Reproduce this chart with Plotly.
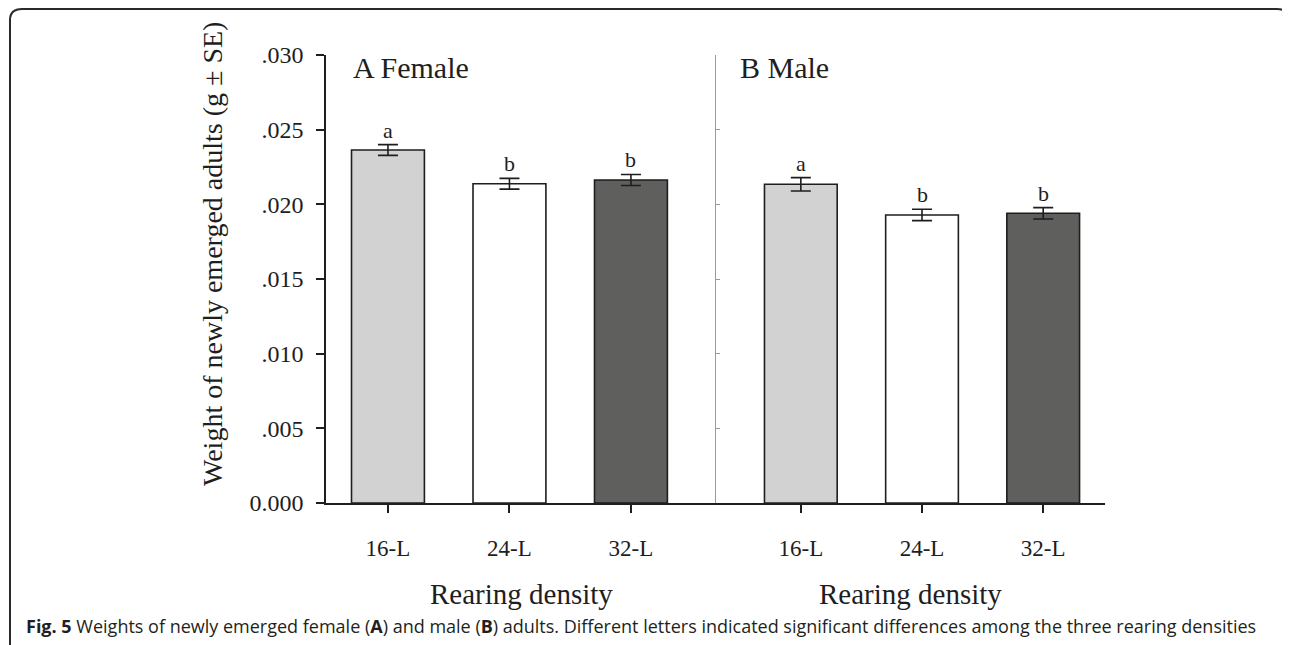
import plotly.graph_objects as go

# ---------------- data ----------------
categories = ["16-L", "24-L", "32-L"]
female_mean = [0.02364, 0.02138, 0.02163]
female_se = [0.00036, 0.00036, 0.00037]
female_letters = ["a", "b", "b"]
male_mean = [0.02134, 0.01929, 0.01940]
male_se = [0.00045, 0.00038, 0.00038]
male_letters = ["a", "b", "b"]
bar_colors = ["#d1d2d1", "#ffffff", "#5f5f5e"]
y_tickvals = [0, 0.005, 0.010, 0.015, 0.020, 0.025, 0.030]
y_ticktext = ["0.000", ".005", ".010", ".015", ".020", ".025", ".030"]
panel_titles = ["A Female", "B Male"]
x_title = "Rearing density"
y_title = "Weight of newly emerged adults (g \u00b1 SE)"
caption = ("<b>Fig. 5</b> Weights of newly emerged female (<b>A</b>) and male (<b>B</b>) adults. "
           "Different letters indicated significant differences among the three rearing densities")

# ---------------- layout helpers ----------------
OFF = 8                      # page body margin
W, H = 1290 - OFF, 645 - OFF
def px(x):
    return (x - OFF) / W
def py(y):
    return 1 - (y - OFF) / H

SERIF = "Liberation Serif, Times New Roman, serif"
INK = "#1e1e1e"

fig = go.Figure()

for means, ses, xa, ya in [(female_mean, female_se, "x", "y"), (male_mean, male_se, "x2", "y2")]:
    fig.add_trace(go.Bar(
        x=categories, y=means, xaxis=xa, yaxis=ya, width=0.6,
        marker=dict(color=bar_colors, line=dict(color=INK, width=1.6)),
        error_y=dict(type="data", array=ses, visible=True, color=INK, thickness=1.6, width=10),
        showlegend=False, hoverinfo="skip",
    ))

annotations = []
for means, ses, letters, xa, ya in [(female_mean, female_se, female_letters, "x", "y"),
                                    (male_mean, male_se, male_letters, "x2", "y2")]:
    for c, m, s, l in zip(categories, means, ses, letters):
        annotations.append(dict(x=c, y=m + s, xref=xa, yref=ya, text=l, showarrow=False,
                                yanchor="bottom", yshift=0,
                                font=dict(family=SERIF, size=22, color=INK)))

annotations += [
    dict(x=px(351), y=py(68), xref="paper", yref="paper", text=panel_titles[0], showarrow=False,
         xanchor="left", yanchor="middle", font=dict(family=SERIF, size=30, color=INK)),
    dict(x=px(738), y=py(68), xref="paper", yref="paper", text=panel_titles[1], showarrow=False,
         xanchor="left", yanchor="middle", font=dict(family=SERIF, size=30, color=INK)),
    dict(x=px(521), y=py(594), xref="paper", yref="paper", text=x_title, showarrow=False,
         xanchor="center", yanchor="middle", font=dict(family=SERIF, size=29, color=INK)),
    dict(x=px(910.5), y=py(594), xref="paper", yref="paper", text=x_title, showarrow=False,
         xanchor="center", yanchor="middle", font=dict(family=SERIF, size=29, color=INK)),
    dict(x=px(213), y=py(254), xref="paper", yref="paper", text=y_title, showarrow=False,
         textangle=-90, xanchor="center", yanchor="middle",
         font=dict(family=SERIF, size=28, color=INK)),
    dict(x=px(24), y=py(626), xref="paper", yref="paper", text=caption, showarrow=False,
         xanchor="left", yanchor="middle",
         font=dict(family="Open Sans, sans-serif", size=18, color="#231f20")),
]

# rounded frame around the figure (top-left / top-right corners visible)
pts = [(10, 660), (10, 20), (10, 9), (22, 9), (1277, 9), (1289, 9), (1289, 21)]
def P(p):
    return f"{px(p[0]):.5f},{py(p[1]):.5f}"
path = (f"M {P(pts[0])} L {P(pts[1])} Q {P(pts[2])} {P(pts[3])} "
        f"L {P(pts[4])} Q {P(pts[5])} {P(pts[6])}")
shapes = [dict(type="path", path=path, xref="paper", yref="paper",
               line=dict(color="#2a2a2a", width=2))]

axis_common = dict(showgrid=False, zeroline=False, fixedrange=True, automargin=False)

fig.update_layout(
    width=W, height=H,
    margin=dict(l=0, r=0, t=0, b=0, pad=0, autoexpand=False),
    paper_bgcolor="white", plot_bgcolor="rgba(0,0,0,0)",
    annotations=annotations, shapes=shapes,
    xaxis=dict(domain=[px(326), px(716)], range=[-0.51, 2.70], anchor="y",
               showline=True, linecolor=INK, linewidth=1.5,
               ticks="outside", ticklen=8, tickwidth=1.5, tickcolor=INK,
               tickfont=dict(family=SERIF, size=23, color=INK), ticklabelstandoff=16,
               **axis_common),
    xaxis2=dict(domain=[px(716), px(1105)], range=[-0.70, 2.51], anchor="y2",
                showline=True, linecolor=INK, linewidth=1.5,
                ticks="outside", ticklen=8, tickwidth=1.5, tickcolor=INK,
                tickfont=dict(family=SERIF, size=23, color=INK), ticklabelstandoff=16,
                **axis_common),
    yaxis=dict(domain=[py(503), py(55)], range=[0, 0.030], anchor="x",
               showline=True, linecolor=INK, linewidth=1.5,
               ticks="outside", ticklen=8, tickwidth=1.5, tickcolor=INK,
               tickvals=y_tickvals, ticktext=y_ticktext, ticklabelstandoff=8,
               tickfont=dict(family=SERIF, size=24, color=INK),
               **axis_common),
    yaxis2=dict(domain=[py(503), py(55)], range=[0, 0.030], anchor="x2",
                showline=True, linecolor="#9a9a9a", linewidth=1,
                ticks="inside", ticklen=4, tickwidth=1, tickcolor="#9a9a9a",
                tickvals=y_tickvals, showticklabels=False,
                **axis_common),
)

fig.write_html("out.html")
